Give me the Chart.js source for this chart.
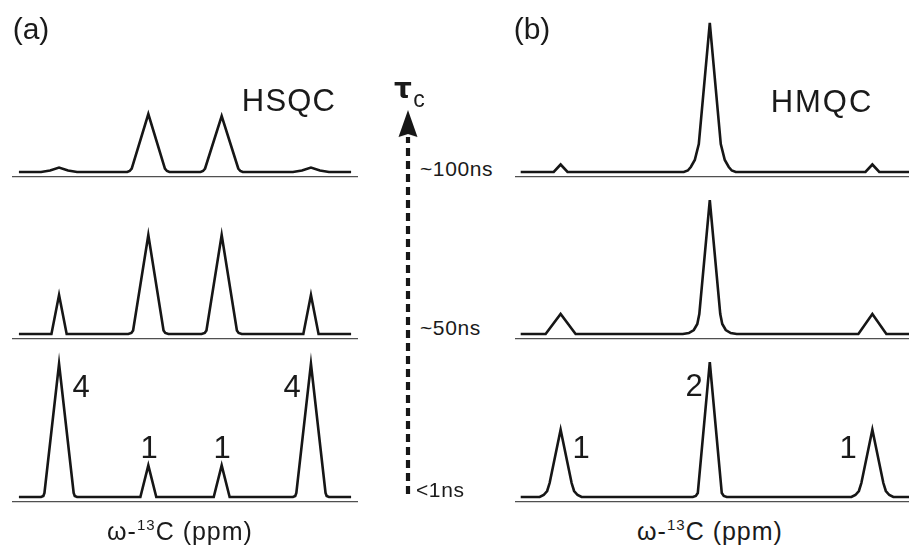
<!DOCTYPE html>
<html>
<head>
<meta charset="utf-8">
<script src="https://cdn.jsdelivr.net/npm/chart.js@4.4.1/dist/chart.umd.min.js"></script>
<style>
html,body{margin:0;padding:0;background:#fff;}
#stage{position:relative;width:909px;height:556px;overflow:hidden;font-family:"Liberation Sans",Arial,Helvetica,sans-serif;color:#1a1a1a;}
.plot{position:absolute;}
.plot canvas{display:block;}
.t{position:absolute;transform:translate(-50%,-50%);line-height:1;white-space:nowrap;}
.tl{position:absolute;transform:translate(0,-50%);line-height:1;white-space:nowrap;}
.sup{font-size:15px;position:relative;top:-10px;}
</style>
</head>
<body>
<div id="stage">
  <div class="plot" style="left:12px;top:17px;"><canvas id="a1" width="346" height="164"></canvas></div>
  <div class="plot" style="left:12px;top:179px;"><canvas id="a2" width="346" height="164"></canvas></div>
  <div class="plot" style="left:12px;top:342px;"><canvas id="a3" width="346" height="164"></canvas></div>
  <div class="plot" style="left:515px;top:17px;"><canvas id="b1" width="394" height="164"></canvas></div>
  <div class="plot" style="left:515px;top:179px;"><canvas id="b2" width="394" height="164"></canvas></div>
  <div class="plot" style="left:515px;top:342px;"><canvas id="b3" width="394" height="164"></canvas></div>
  <div class="plot" style="left:396px;top:100px;"><canvas id="tau" width="24" height="400"></canvas></div>

  <div class="t" style="left:31px;top:29px;font-size:30px;">(a)</div>
  <div class="t" style="left:532px;top:29px;font-size:30px;">(b)</div>
  <div class="t" style="left:289px;top:100px;font-size:31px;letter-spacing:1.2px;">HSQC</div>
  <div class="t" style="left:822px;top:101px;font-size:31px;letter-spacing:2px;">HMQC</div>

  <div class="t" style="left:403px;top:89px;font-size:28px;font-family:'DejaVu Sans',sans-serif;font-weight:bold;">τ</div>
  <div class="t" style="left:419px;top:99px;font-size:23px;">c</div>
  <div class="tl" style="left:420px;top:168px;font-size:21px;letter-spacing:0.6px;">~100ns</div>
  <div class="tl" style="left:420px;top:327px;font-size:21px;letter-spacing:0.6px;">~50ns</div>
  <div class="tl" style="left:416px;top:489px;font-size:21px;letter-spacing:0.6px;">&lt;1ns</div>

  <div class="t" style="left:81px;top:386px;font-size:31px;">4</div>
  <div class="t" style="left:149px;top:447px;font-size:31px;">1</div>
  <div class="t" style="left:222px;top:447px;font-size:31px;">1</div>
  <div class="t" style="left:292px;top:386px;font-size:31px;">4</div>
  <div class="t" style="left:581px;top:447px;font-size:31px;">1</div>
  <div class="t" style="left:694px;top:385px;font-size:31px;">2</div>
  <div class="t" style="left:848px;top:447px;font-size:31px;">1</div>

  <div class="t" style="left:180px;top:531px;font-size:25px;letter-spacing:1px;">ω-<span class="sup">13</span>C (ppm)</div>
  <div class="t" style="left:710px;top:531px;font-size:25px;letter-spacing:1px;">ω-<span class="sup">13</span>C (ppm)</div>
</div>
<script>
// ---- Data: chemical-shift positions (arbitrary ppm units) and intensities ----
// HSQC, tau_c ~100 ns
const hsqc100X = [2, 8.4, 11.0, 13.6, 16.2, 18.8, 33.3, 34.0, 34.6, 39.4, 44.2, 44.8, 45.5, 54.5, 55.2, 55.8, 60.6, 65.4, 66.0, 66.7, 81.2, 83.8, 86.4, 89.0, 91.6, 98];
const hsqc100Y = [0, 0, 0.045, 0.135, 0.045, 0, 0, 0.03, 0.105, 1.74, 0.105, 0.03, 0, 0, 0.03, 0.105, 1.68, 0.105, 0.03, 0, 0, 0.045, 0.135, 0.045, 0, 0];
// HSQC, tau_c ~50 ns
const hsqc50X = [2, 11.4, 13.6, 15.8, 33.6, 34.5, 35.0, 39.4, 43.8, 44.3, 45.2, 54.8, 55.7, 56.2, 60.6, 65.0, 65.5, 66.4, 84.2, 86.4, 88.6, 98];
const hsqc50Y = [0, 0, 1.17, 0, 0, 0.03, 0.105, 2.97, 0.105, 0.03, 0, 0, 0.03, 0.105, 2.97, 0.105, 0.03, 0, 0, 1.17, 0, 0];
// HSQC, tau_c <1 ns
const hsqc1X = [2, 8.4, 9.06, 9.38, 13.6, 17.82, 18.14, 18.8, 37.1, 39.4, 41.7, 58.3, 60.6, 62.9, 81.2, 81.86, 82.18, 86.4, 90.62, 90.94, 91.6, 98];
const hsqc1Y = [0, 0, 0.03, 0.12, 4.0, 0.12, 0.03, 0, 0, 0.95, 0, 0, 0.95, 0, 0, 0.03, 0.12, 4.0, 0.12, 0.03, 0, 0];
// HMQC, tau_c ~100 ns
const hmqc100X = [1.65, 11.2, 13.2, 15.2, 48.85, 50.0, 50.87, 52.02, 53.18, 56.36, 59.54, 60.70, 61.85, 62.72, 63.87, 101.4, 103.4, 105.4, 114];
const hmqc100Y = [0, 0, 0.225, 0, 0, 0.045, 0.15, 0.36, 0.84, 4.48, 0.84, 0.36, 0.15, 0.045, 0, 0, 0.225, 0, 0];
// HMQC, tau_c ~50 ns
const hmqc50X = [1.65, 8.86, 13.2, 17.54, 48.56, 50.29, 51.74, 52.75, 53.33, 56.36, 59.39, 59.97, 60.98, 62.43, 64.16, 99.35, 103.4, 107.45, 114];
const hmqc50Y = [0, 0, 0.6, 0, 0, 0.03, 0.12, 0.30, 0.60, 4.02, 0.60, 0.30, 0.12, 0.03, 0, 0, 0.6, 0, 0];
// HMQC, tau_c <1 ns
const hmqc1X = [1.65, 7.13, 8.29, 9.30, 10.02, 13.2, 16.38, 17.10, 18.11, 19.27, 51.45, 52.31, 52.89, 56.36, 59.83, 60.41, 61.27, 97.33, 98.49, 99.50, 100.22, 103.4, 106.58, 107.30, 108.31, 109.47, 114];
const hmqc1Y = [0, 0, 0.06, 0.18, 0.42, 2.02, 0.42, 0.18, 0.06, 0, 0, 0.03, 0.12, 4.05, 0.12, 0.03, 0, 0, 0.06, 0.18, 0.42, 2.02, 0.42, 0.18, 0.06, 0, 0];
// Correlation-time axis: levels <1ns (0), ~50ns (1), ~100ns (2); arrow runs past the top level
const tauLevels = ['<1ns', '~50ns', '~100ns'];
const tauArrowY = [2.236, 0];

// ---- layout / style (not data) ----
const AREA_H = 160;        // px of plot area per spectrum row
const PX_PER_UNIT = 33.3;  // vertical scale, same for all rows
const Y_MIN = -0.15;
const LINE = '#161616';

function spectrum(id, xs, ys, xMax) {
  const pts = xs.map((x, i) => ({ x: x, y: ys[i] }));
  return new Chart(document.getElementById(id), {
    type: 'line',
    data: { datasets: [{ data: pts, borderColor: LINE, borderWidth: 2.6, pointRadius: 0, pointHoverRadius: 0, tension: 0, fill: false, clip: false }] },
    options: {
      animation: false, responsive: false, devicePixelRatio: 1, events: [],
      layout: { autoPadding: false, padding: { top: 0, left: 0, right: 0, bottom: 4 } },
      plugins: { legend: { display: false }, tooltip: { enabled: false }, title: { display: false } },
      scales: {
        x: { type: 'linear', min: 0, max: xMax, display: true,
             ticks: { display: false }, grid: { display: false, drawTicks: false },
             border: { display: true, color: '#505050', width: 1.2 } },
        y: { type: 'linear', min: Y_MIN, max: Y_MIN + AREA_H / PX_PER_UNIT, display: false }
      }
    }
  });
}

spectrum('a1', hsqc100X, hsqc100Y, 100);
spectrum('a2', hsqc50X, hsqc50Y, 100);
spectrum('a3', hsqc1X, hsqc1Y, 100);
spectrum('b1', hmqc100X, hmqc100Y, 114);
spectrum('b2', hmqc50X, hmqc50Y, 114);
spectrum('b3', hmqc1X, hmqc1Y, 114);

// arrow head image (tip at top, base at the image's vertical centre)
const head = document.createElement('canvas');
head.width = 20; head.height = 54;
(function () {
  const c = head.getContext('2d');
  c.fillStyle = LINE;
  c.beginPath();
  c.moveTo(10, 0); c.lineTo(19.5, 27); c.lineTo(10, 24); c.lineTo(0.5, 27); c.closePath();
  c.fill();
})();

new Chart(document.getElementById('tau'), {
  type: 'line',
  data: { datasets: [{
    data: tauArrowY.map(y => ({ x: 0, y: y })),
    borderColor: LINE, borderWidth: 4.2, borderDash: [8, 5], borderDashOffset: 2, borderCapStyle: 'butt',
    pointStyle: head, pointRadius: ctx => ctx.dataIndex === 0 ? 10 : 0, pointHoverRadius: 0, clip: false, tension: 0
  }] },
  options: {
    animation: false, responsive: false, devicePixelRatio: 1, events: [],
    layout: { autoPadding: false, padding: { top: 0, left: 0, right: 0, bottom: 3 } },
    plugins: { legend: { display: false }, tooltip: { enabled: false } },
    scales: {
      x: { type: 'linear', min: -1, max: 1, display: false },
      y: { type: 'linear', min: 0, max: 397 / 161, display: false }
    }
  }
});
</script>
</body>
</html>
